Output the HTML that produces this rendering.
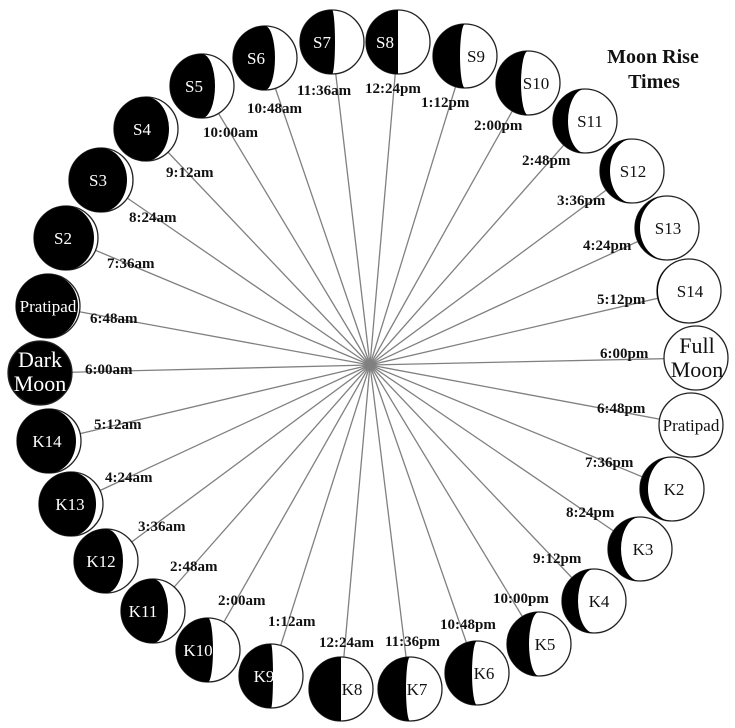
<!DOCTYPE html>
<html><head><meta charset="utf-8"><style>
html,body{margin:0;padding:0;background:#fff;}
svg{display:block;}
.t{font-family:"Liberation Serif",serif;font-weight:bold;font-size:15px;fill:#111;}
.m{font-family:"Liberation Serif",serif;font-size:17px;text-anchor:middle;}
.w{fill:#fff;} .b{fill:#111;}
</style></head><body>
<svg width="735" height="728" viewBox="0 0 735 728" xmlns="http://www.w3.org/2000/svg">
<g stroke="#808080" stroke-width="1.3">
<line x1="370" y1="365" x2="40" y2="373"/>
<line x1="370" y1="365" x2="48" y2="306"/>
<line x1="370" y1="365" x2="66" y2="238"/>
<line x1="370" y1="365" x2="101" y2="180"/>
<line x1="370" y1="365" x2="146" y2="129"/>
<line x1="370" y1="365" x2="202" y2="86"/>
<line x1="370" y1="365" x2="265" y2="58"/>
<line x1="370" y1="365" x2="332" y2="42"/>
<line x1="370" y1="365" x2="398" y2="42"/>
<line x1="370" y1="365" x2="465" y2="56"/>
<line x1="370" y1="365" x2="528" y2="83"/>
<line x1="370" y1="365" x2="585" y2="121"/>
<line x1="370" y1="365" x2="632" y2="171"/>
<line x1="370" y1="365" x2="667" y2="228"/>
<line x1="370" y1="365" x2="689" y2="291"/>
<line x1="370" y1="365" x2="696" y2="358"/>
<line x1="370" y1="365" x2="691" y2="425"/>
<line x1="370" y1="365" x2="672" y2="489"/>
<line x1="370" y1="365" x2="640" y2="549"/>
<line x1="370" y1="365" x2="594" y2="601"/>
<line x1="370" y1="365" x2="539" y2="644"/>
<line x1="370" y1="365" x2="477" y2="673"/>
<line x1="370" y1="365" x2="410" y2="689"/>
<line x1="370" y1="365" x2="341" y2="689"/>
<line x1="370" y1="365" x2="271" y2="676"/>
<line x1="370" y1="365" x2="208" y2="650"/>
<line x1="370" y1="365" x2="153" y2="611"/>
<line x1="370" y1="365" x2="106" y2="561"/>
<line x1="370" y1="365" x2="71" y2="504"/>
<line x1="370" y1="365" x2="49" y2="441"/>
</g>
<g stroke="#222" stroke-width="1.3" fill="#fff">
<circle cx="40" cy="373" r="32" fill="#000"/>
<circle cx="48" cy="306" r="32"/><circle cx="66" cy="238" r="32"/><circle cx="101" cy="180" r="32"/>
<circle cx="146" cy="129" r="32"/><circle cx="202" cy="86" r="32"/><circle cx="265" cy="58" r="32"/>
<circle cx="332" cy="42" r="32"/><circle cx="398" cy="42" r="32"/><circle cx="465" cy="56" r="32"/>
<circle cx="528" cy="83" r="32"/><circle cx="585" cy="121" r="32"/><circle cx="632" cy="171" r="32"/>
<circle cx="667" cy="228" r="32"/><circle cx="689" cy="291" r="32"/><circle cx="696" cy="358" r="32"/>
<circle cx="691" cy="425" r="32"/><circle cx="672" cy="489" r="32"/><circle cx="640" cy="549" r="32"/>
<circle cx="594" cy="601" r="32"/><circle cx="539" cy="644" r="32"/><circle cx="477" cy="673" r="32"/>
<circle cx="410" cy="689" r="32"/><circle cx="341" cy="689" r="32"/><circle cx="271" cy="676" r="32"/>
<circle cx="208" cy="650" r="32"/><circle cx="153" cy="611" r="32"/><circle cx="106" cy="561" r="32"/>
<circle cx="71" cy="504" r="32"/><circle cx="49" cy="441" r="32"/>
</g>
<g fill="#000">
<path d="M48,274 A32,32 0 0 0 48,338 A30,32 0 0 0 48,274Z"/>
<path d="M66,206 A32,32 0 0 0 66,270 A28,32 0 0 0 66,206Z"/>
<path d="M101,148 A32,32 0 0 0 101,212 A26,32 0 0 0 101,148Z"/>
<path d="M146,97 A32,32 0 0 0 146,161 A23,32 0 0 0 146,97Z"/>
<path d="M202,54 A32,32 0 0 0 202,118 A13,32 0 0 0 202,54Z"/>
<path d="M265,26 A32,32 0 0 0 265,90 A10,32 0 0 0 265,26Z"/>
<path d="M332,10 A32,32 0 0 0 332,74 A3,32 0 0 0 332,10Z"/>
<path d="M398,10 A32,32 0 0 0 398,74 Z"/>
<path d="M465,24 A32,32 0 0 0 465,88 A5,32 0 0 1 465,24Z"/>
<path d="M528,51 A32,32 0 0 0 528,115 A7,32 0 0 1 528,51Z"/>
<path d="M585,89 A32,32 0 0 0 585,153 A17,32 0 0 1 585,89Z"/>
<path d="M632,139 A32,32 0 0 0 632,203 A22,32 0 0 1 632,139Z"/>
<path d="M667,196 A32,32 0 0 0 667,260 A27,32 0 0 1 667,196Z"/>
<path d="M689,259 A32,32 0 0 0 689,323 A31,32 0 0 1 689,259Z"/>
<path d="M672,457 A32,32 0 0 0 672,521 A24,32 0 0 1 672,457Z"/>
<path d="M640,517 A32,32 0 0 0 640,581 A19,32 0 0 1 640,517Z"/>
<path d="M594,569 A32,32 0 0 0 594,633 A16,32 0 0 1 594,569Z"/>
<path d="M539,612 A32,32 0 0 0 539,676 A10,32 0 0 1 539,612Z"/>
<path d="M477,641 A32,32 0 0 0 477,705 A5,32 0 0 1 477,641Z"/>
<path d="M410,657 A32,32 0 0 0 410,721 A4,32 0 0 1 410,657Z"/>
<path d="M341,657 A32,32 0 0 0 341,721 Z"/>
<path d="M271,644 A32,32 0 0 0 271,708 A2,32 0 0 0 271,644Z"/>
<path d="M208,618 A32,32 0 0 0 208,682 A5,32 0 0 0 208,618Z"/>
<path d="M153,579 A32,32 0 0 0 153,643 A15,32 0 0 0 153,579Z"/>
<path d="M106,529 A32,32 0 0 0 106,593 A17,32 0 0 0 106,529Z"/>
<path d="M71,472 A32,32 0 0 0 71,536 A25,32 0 0 0 71,472Z"/>
<path d="M49,409 A32,32 0 0 0 49,473 A27,32 0 0 0 49,409Z"/>
</g>
<g class="m">
<text x="40" y="367" class="w" style="font-size:22px">Dark</text>
<text x="40" y="391" class="w" style="font-size:22px">Moon</text>
<text x="48" y="312" class="w" style="font-size:17px">Pratipad</text>
<text x="63" y="244" class="w">S2</text>
<text x="98" y="186" class="w">S3</text>
<text x="142" y="135" class="w">S4</text>
<text x="194" y="92" class="w">S5</text>
<text x="256" y="64" class="w">S6</text>
<text x="322" y="48" class="w">S7</text>
<text x="385" y="48" class="w">S8</text>
<text x="476" y="62" class="b">S9</text>
<text x="536" y="89" class="b">S10</text>
<text x="590" y="127" class="b">S11</text>
<text x="633" y="177" class="b">S12</text>
<text x="668" y="234" class="b">S13</text>
<text x="690" y="297" class="b">S14</text>
<text x="697" y="353" class="b" style="font-size:22px">Full</text>
<text x="697" y="377" class="b" style="font-size:22px">Moon</text>
<text x="691" y="431" class="b" style="font-size:17px">Pratipad</text>
<text x="674" y="495" class="b">K2</text>
<text x="643" y="555" class="b">K3</text>
<text x="599" y="607" class="b">K4</text>
<text x="545" y="650" class="b">K5</text>
<text x="484" y="679" class="b">K6</text>
<text x="417" y="695" class="b">K7</text>
<text x="352" y="695" class="b">K8</text>
<text x="264" y="682" class="w">K9</text>
<text x="198" y="656" class="w">K10</text>
<text x="143" y="617" class="w">K11</text>
<text x="101" y="567" class="w">K12</text>
<text x="70" y="510" class="w">K13</text>
<text x="47" y="447" class="w">K14</text>
</g>
<g class="t">
<text x="85" y="374">6:00am</text>
<text x="90" y="323">6:48am</text>
<text x="107" y="268">7:36am</text>
<text x="129" y="222">8:24am</text>
<text x="166" y="177">9:12am</text>
<text x="203" y="137">10:00am</text>
<text x="247" y="113">10:48am</text>
<text x="297" y="95">11:36am</text>
<text x="365" y="93">12:24pm</text>
<text x="421" y="107">1:12pm</text>
<text x="474" y="130">2:00pm</text>
<text x="522" y="165">2:48pm</text>
<text x="557" y="205">3:36pm</text>
<text x="583" y="250">4:24pm</text>
<text x="597" y="304">5:12pm</text>
<text x="600" y="358">6:00pm</text>
<text x="597" y="413">6:48pm</text>
<text x="585" y="467">7:36pm</text>
<text x="566" y="517">8:24pm</text>
<text x="533" y="563">9:12pm</text>
<text x="493" y="603">10:00pm</text>
<text x="440" y="629">10:48pm</text>
<text x="385" y="646">11:36pm</text>
<text x="319" y="647">12:24am</text>
<text x="268" y="626">1:12am</text>
<text x="218" y="605">2:00am</text>
<text x="170" y="571">2:48am</text>
<text x="138" y="531">3:36am</text>
<text x="105" y="482">4:24am</text>
<text x="94" y="429">5:12am</text>
</g>
<g style="font-family:'Liberation Serif',serif;font-weight:bold;font-size:20px;fill:#111;text-anchor:middle">
<text x="653" y="63">Moon Rise</text>
<text x="654" y="88">Times</text>
</g>
</svg>
</body></html>
